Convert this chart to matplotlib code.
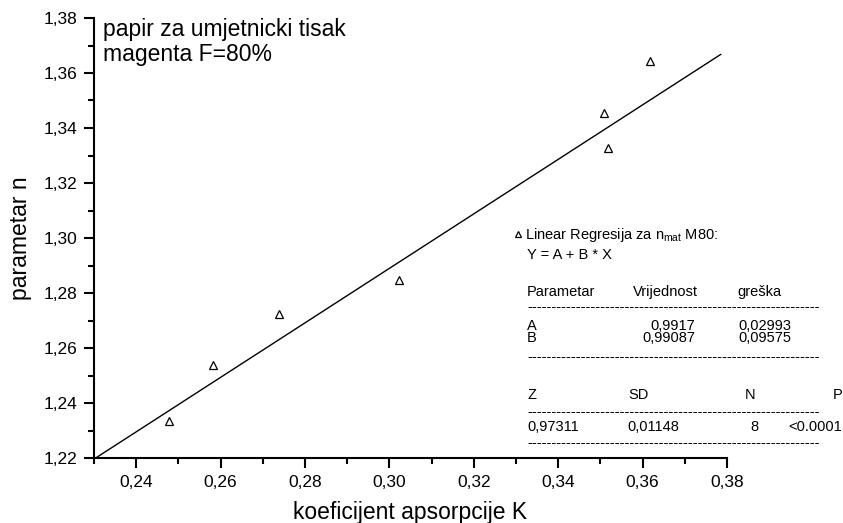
import numpy as np
import matplotlib
matplotlib.use('Agg')
import matplotlib.pyplot as plt
from matplotlib.ticker import MultipleLocator, FuncFormatter

plt.rcParams['font.family'] = ['Liberation Sans', 'DejaVu Sans']

# measured data: absorption coefficient K vs parameter n
K = [0.2478, 0.2583, 0.2739, 0.3022, 0.3509, 0.3519, 0.3617]
n = [1.2336, 1.2537, 1.2724, 1.2847, 1.3454, 1.3329, 1.3643]

# linear fit Y = A + B * X
A, A_err = 0.9917, 0.02993
B, B_err = 0.99087, 0.09575
fit_range = [0.23, 0.3785]

# fit statistics
stat_names = ['Z', 'SD', 'N', 'P']
stat_values = ['0,97311', '0,01148', '8', '<0.0001']

W, H = 843, 523
fig = plt.figure(figsize=(W / 100, H / 100), dpi=100)
ax = fig.add_axes([94 / W, 65 / H, (727 - 94) / W, (458 - 18) / H])

fx = np.array(fit_range)
ax.plot(fx, A + B * fx, color='black', lw=1.0)
pts, = ax.plot(K, n, ls='none', marker='^', ms=5.5, mfc='none', mec='black', mew=0.9)

ax.set_xlim(0.23, 0.38)
ax.set_ylim(1.22, 1.38)
for s in ['top', 'right']:
    ax.spines[s].set_visible(False)
for s in ['left', 'bottom']:
    ax.spines[s].set_linewidth(1.5)

comma = FuncFormatter(lambda v, p: f'{v:.2f}'.replace('.', ','))
ax.xaxis.set_major_locator(MultipleLocator(0.02))
ax.xaxis.set_minor_locator(MultipleLocator(0.01))
ax.yaxis.set_major_locator(MultipleLocator(0.02))
ax.yaxis.set_minor_locator(MultipleLocator(0.01))
ax.xaxis.set_major_formatter(comma)
ax.yaxis.set_major_formatter(comma)
ax.tick_params(which='major', direction='out', length=7, width=1.5, labelsize=12.5, pad=5)
ax.tick_params(which='minor', direction='out', length=4, width=1.5)

ax.set_xlabel('koeficijent apsorpcije K', fontsize=16.5, labelpad=8)
ax.set_ylabel('parametar n', fontsize=16.5, labelpad=8)

ax.text(103 / W, 1 - 42 / H, 'papir za umjetnicki tisak\nmagenta F=80%',
        transform=fig.transFigure, fontsize=16.5, va='center', linespacing=1.1)

# Origin-style legend and results table
ax.legend([pts], ['Linear Regresija za n$_{\\mathregular{mat}}$ M80:'],
          loc='center left', bbox_to_anchor=(513 / W, 1 - 235 / H),
          bbox_transform=fig.transFigure, frameon=False, fontsize=10.5,
          handlelength=0.7, handletextpad=0.15, borderpad=0, borderaxespad=0,
          markerscale=0.8)


def ft(x, y, s, ha='left', **kw):
    fig.text(x / W, 1 - y / H, s, fontsize=10.5, ha=ha, va='center', **kw)


def num(v, d):
    return f'{v:.{d}f}'.replace('.', ',')


dashes = '-' * 60
ft(527, 255, 'Y = A + B * X')
ft(527, 292, 'Parametar')
ft(633, 292, 'Vrijednost')
ft(737, 292, 'greška')
ft(527, 307, dashes)
ft(527, 332, 'A\nB', linespacing=0.8)
ft(695, 332, num(A, 4) + '\n' + num(B, 5), ha='right', multialignment='right', linespacing=0.8)
ft(738, 332, num(A_err, 5) + '\n' + num(B_err, 5), linespacing=0.8)
ft(527, 357, dashes)
for x, s in zip([527, 628, 745, 833], stat_names):
    ft(x, 395, s)
ft(527, 412, dashes)
for x, s in zip([527, 627, 750, 788], stat_values):
    ft(x, 427, s)
ft(527, 443, dashes)

fig.savefig('out.png', dpi=100)
